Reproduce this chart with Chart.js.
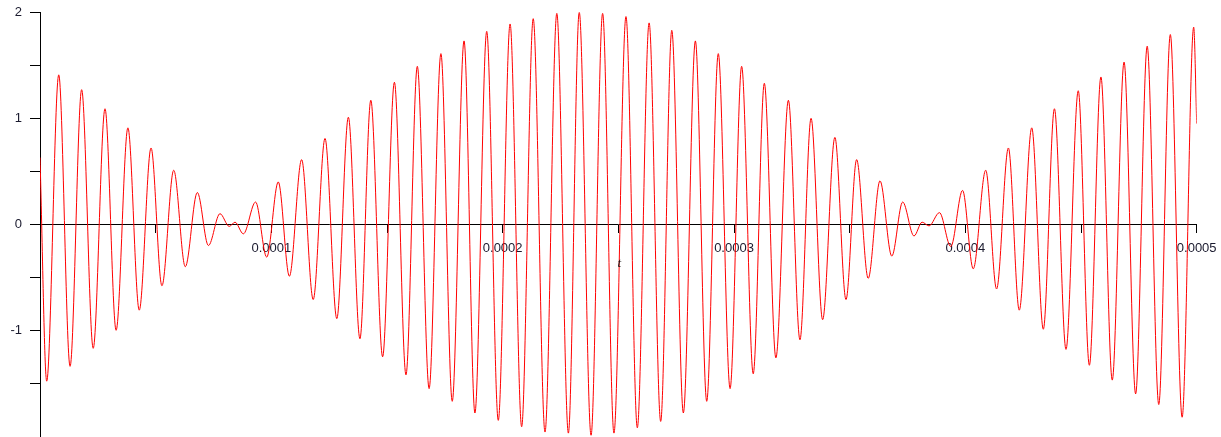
<!DOCTYPE html>
<html>
<head>
<meta charset="utf-8">
<script src="https://cdn.jsdelivr.net/npm/chart.js@4"></script>
<style>
html,body{margin:0;padding:0;background:#fff;}
canvas{display:block;}
</style>
</head>
<body>
<canvas id="c" width="1221" height="437"></canvas>
<script>
// Sample times (microseconds) of each local extreme
const timesUs = [0, 2.9, 8.1, 13.0, 18.0, 23.0, 28.1, 32.9, 38.0, 42.9, 48.0, 52.7, 57.8, 62.8, 68.0, 72.8, 77.8, 81.8, 84.3, 87.9,
  93.2, 98.0, 103.0, 107.8, 113.1, 118.1, 123.2, 128.3, 133.3, 138.3, 143.0, 148.1, 153.2, 158.2, 163.1, 168.2, 173.3, 178.2, 183.3, 188.0,
  193.1, 198.1, 203.2, 208.2, 213.2, 218.3, 223.4, 228.4, 233.1, 238.2, 243.2, 248.1, 253.3, 258.2, 263.3, 268.3, 273.1, 278.1, 283.3, 288.2,
  293.2, 298.3, 303.3, 308.3, 313.1, 318.1, 323.5, 328.5, 333.3, 338.3, 343.6, 348.4, 353.0, 358.0, 363.1, 368.2, 372.9, 377.8, 381.3, 384.3,
  388.8, 393.7, 398.8, 403.4, 408.8, 413.5, 418.6, 423.3, 428.7, 433.7, 438.5, 443.5, 448.8, 453.6, 458.6, 463.5, 468.6, 473.6, 478.6, 483.6,
  488.6, 493.7, 498.7, 500.0];
// Signal value at each of those times
const values = [0.63, -1.48, 1.41, -1.34, 1.27, -1.17, 1.09, -1.00, 0.91, -0.81, 0.72, -0.58, 0.51, -0.40, 0.30, -0.20, 0.10, -0.02, 0.02, -0.09,
  0.21, -0.31, 0.40, -0.49, 0.61, -0.71, 0.81, -0.89, 1.01, -1.08, 1.17, -1.25, 1.34, -1.42, 1.49, -1.55, 1.61, -1.67, 1.73, -1.78,
  1.82, -1.85, 1.89, -1.91, 1.94, -1.96, 1.99, -1.97, 2.00, -1.99, 1.99, -1.97, 1.96, -1.92, 1.90, -1.86, 1.83, -1.78, 1.73, -1.67,
  1.61, -1.55, 1.49, -1.41, 1.33, -1.26, 1.17, -1.09, 1.00, -0.90, 0.82, -0.71, 0.61, -0.51, 0.41, -0.30, 0.21, -0.11, 0.02, -0.015,
  0.11, -0.21, 0.32, -0.42, 0.51, -0.61, 0.72, -0.81, 0.91, -0.99, 1.09, -1.18, 1.26, -1.33, 1.39, -1.47, 1.53, -1.60, 1.68, -1.70,
  1.79, -1.82, 1.86, 0.95];

const xTickValues = [0.00005, 0.0001, 0.00015, 0.0002, 0.00025, 0.0003, 0.00035, 0.0004, 0.00045, 0.0005];
const xTickLabels = ['', '0.0001', '', '0.0002', '', '0.0003', '', '0.0004', '', '0.0005'];
const yTickValues = [-1.5, -1, -0.5, 0, 0.5, 1, 1.5, 2];
const yTickLabels = ['', '-1', '', '0', '', '1', '', '2'];
const xAxisTitle = 't';
const xRange = [0, 0.0005];
const yRange = [-2, 2];

const points = timesUs.map((t, i) => ({x: t / 1e6, y: values[i]}));

const noPad = s => { s.paddingLeft = 0; s.paddingRight = 0; s.paddingTop = 0; s.paddingBottom = 0; };

const titlePlugin = {
  id: 'axisTitle',
  afterDraw(chart) {
    const {ctx, scales} = chart;
    const xs = scales.x, ys = scales.y;
    ctx.save();
    ctx.font = 'italic 13px "Liberation Serif"';
    ctx.fillStyle = '#111';
    ctx.textAlign = 'center';
    ctx.textBaseline = 'middle';
    ctx.fillText(xAxisTitle, xs.getPixelForValue((xRange[0] + xRange[1]) / 2) + 1, ys.getPixelForValue(0) + 39);
    ctx.restore();
  }
};

new Chart(document.getElementById('c'), {
  type: 'line',
  data: {
    datasets: [{
      data: points,
      borderColor: '#ff0000',
      borderWidth: 1,
      pointRadius: 0,
      fill: false,
      cubicInterpolationMode: 'monotone'
    }]
  },
  options: {
    responsive: false,
    animation: false,
    devicePixelRatio: 1,
    layout: {padding: {left: 0, right: 24.3, top: 12.3, bottom: 0.7}},
    plugins: {legend: {display: false}, tooltip: {enabled: false}},
    scales: {
      x: {
        type: 'linear',
        position: {y: 0},
        min: xRange[0], max: xRange[1],
        afterBuildTicks: s => { s.ticks = xTickValues.map(v => ({value: v})); },
        afterFit: noPad,
        border: {display: true, color: '#000', width: 1},
        grid: {drawOnChartArea: false, drawTicks: true, tickLength: 8, color: '#000', tickColor: '#000'},
        ticks: {
          autoSkip: false, maxRotation: 0, padding: 8,
          color: '#1a1a2e',
          font: {family: '"Liberation Sans"', size: 13},
          callback: (v, i) => xTickLabels[i]
        }
      },
      y: {
        type: 'linear',
        position: 'left',
        min: yRange[0], max: yRange[1],
        afterBuildTicks: s => { s.ticks = yTickValues.map(v => ({value: v})); },
        afterFit: s => { noPad(s); s.width = 40; },
        border: {display: true, color: '#000', width: 1},
        grid: {drawOnChartArea: false, drawTicks: true, tickLength: 10, color: '#000', tickColor: '#000'},
        ticks: {
          autoSkip: false, padding: 8,
          color: '#1a1a2e',
          font: {family: '"Liberation Sans"', size: 13},
          callback: (v, i) => yTickLabels[i]
        }
      }
    }
  },
  plugins: [titlePlugin]
});
</script>
</body>
</html>
